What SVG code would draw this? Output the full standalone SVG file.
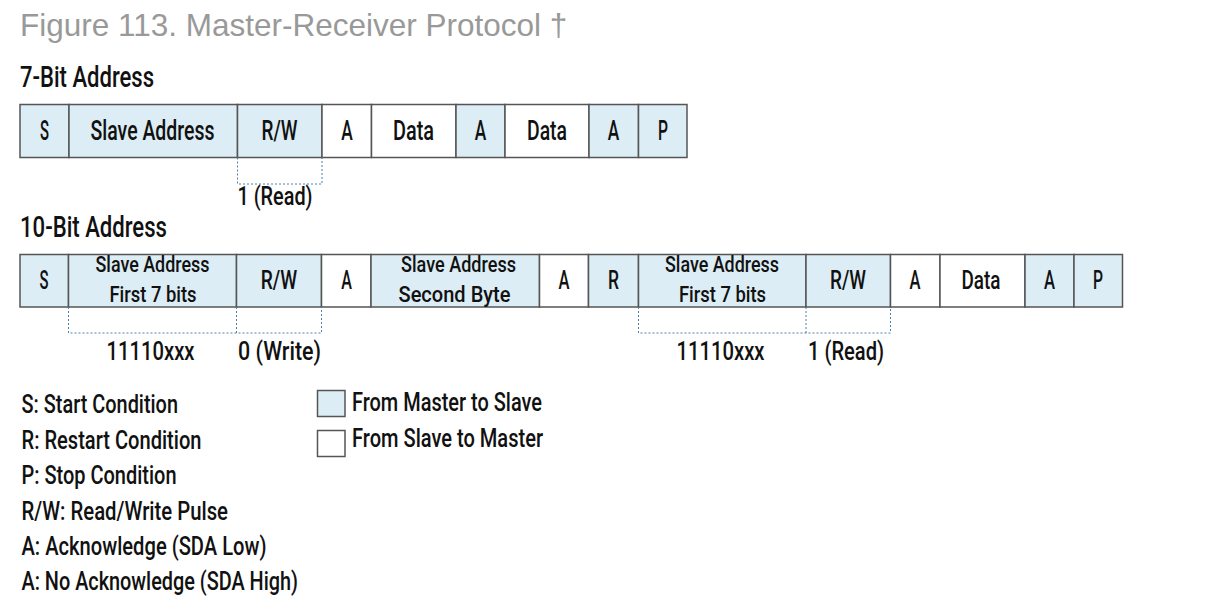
<svg xmlns="http://www.w3.org/2000/svg" width="1206" height="612" viewBox="0 0 1206 612">
<style>
.bg{fill:#ffffff}
.m{fill:#dcedf5;stroke:#555555;stroke-width:1.5}
.s{fill:#ffffff;stroke:#555555;stroke-width:1.5}
.t{font-family:Roboto,"Liberation Sans",Arial,sans-serif;font-weight:500;fill:#111111}
.c1{font-size:27.5px;text-anchor:middle}
.c2{font-size:25.5px;text-anchor:middle}
.c3{font-size:22.5px;text-anchor:middle}
.lb{font-size:25px}
.hd{font-size:29px}
.title{font-family:"Liberation Sans",Arial,sans-serif;font-size:31.5px;fill:#999999}
.dot{fill:none;stroke:#4f7fae;stroke-width:1;stroke-dasharray:2 2}
</style>
<rect class="bg" x="0" y="0" width="1206" height="612"/>
<text class="title" x="20" y="36">Figure 113. Master-Receiver Protocol †</text>
<text class="t hd" x="20" y="87" textLength="134" lengthAdjust="spacingAndGlyphs">7-Bit Address</text>
<text class="t hd" x="20" y="237" textLength="147" lengthAdjust="spacingAndGlyphs">10-Bit Address</text>

<g id="row7">
  <g id="r1-s"><rect class="m" x="20" y="104.5" width="49" height="53"/><text class="t c1" x="44.5" y="140" textLength="9" lengthAdjust="spacingAndGlyphs">S</text></g>
  <g id="r1-addr"><rect class="m" x="69" y="104.5" width="168.5" height="53"/><text class="t c1" x="152.5" y="140" textLength="124" lengthAdjust="spacingAndGlyphs">Slave Address</text></g>
  <g id="r1-rw"><rect class="m" x="237.5" y="104.5" width="84.5" height="53"/><text class="t c1" x="279.5" y="140" textLength="36" lengthAdjust="spacingAndGlyphs">R/W</text></g>
  <g id="r1-a1"><rect class="s" x="322" y="104.5" width="49.5" height="53"/><text class="t c1" x="347" y="140" textLength="11.5" lengthAdjust="spacingAndGlyphs">A</text></g>
  <g id="r1-d1"><rect class="s" x="371.5" y="104.5" width="84.5" height="53"/><text class="t c1" x="413.5" y="140" textLength="41" lengthAdjust="spacingAndGlyphs">Data</text></g>
  <g id="r1-a2"><rect class="m" x="456" y="104.5" width="49" height="53"/><text class="t c1" x="480.5" y="140" textLength="11.5" lengthAdjust="spacingAndGlyphs">A</text></g>
  <g id="r1-d2"><rect class="s" x="505" y="104.5" width="84" height="53"/><text class="t c1" x="547" y="140" textLength="40" lengthAdjust="spacingAndGlyphs">Data</text></g>
  <g id="r1-a3"><rect class="m" x="589" y="104.5" width="49.5" height="53"/><text class="t c1" x="613.5" y="140" textLength="11.5" lengthAdjust="spacingAndGlyphs">A</text></g>
  <g id="r1-p"><rect class="m" x="638.5" y="104.5" width="48.5" height="53"/><text class="t c1" x="663" y="140" textLength="10" lengthAdjust="spacingAndGlyphs">P</text></g>
</g>

<g id="row10">
  <g id="r2-s"><rect class="m" x="20" y="254.5" width="48.5" height="52.5"/><text class="t c2" x="44" y="289" textLength="9" lengthAdjust="spacingAndGlyphs">S</text></g>
  <g id="r2-addr1"><rect class="m" x="68.5" y="254.5" width="168" height="52.5"/><text class="t c3" x="152.5" y="272" textLength="114" lengthAdjust="spacingAndGlyphs">Slave Address</text><text class="t c3" x="153" y="301.5" textLength="87" lengthAdjust="spacingAndGlyphs">First 7 bits</text></g>
  <g id="r2-rw1"><rect class="m" x="236.5" y="254.5" width="85" height="52.5"/><text class="t c2" x="279" y="289" textLength="36.5" lengthAdjust="spacingAndGlyphs">R/W</text></g>
  <g id="r2-a1"><rect class="s" x="321.5" y="254.5" width="49.5" height="52.5"/><text class="t c2" x="346.5" y="289" textLength="10.7" lengthAdjust="spacingAndGlyphs">A</text></g>
  <g id="r2-addr2"><rect class="m" x="371" y="254.5" width="168.5" height="52.5"/><text class="t c3" x="458.5" y="272" textLength="115" lengthAdjust="spacingAndGlyphs">Slave Address</text><text class="t c3" x="454.5" y="301.5" textLength="112" lengthAdjust="spacingAndGlyphs">Second Byte</text></g>
  <g id="r2-a2"><rect class="s" x="539.5" y="254.5" width="49" height="52.5"/><text class="t c2" x="564" y="289" textLength="11" lengthAdjust="spacingAndGlyphs">A</text></g>
  <g id="r2-r"><rect class="m" x="588.5" y="254.5" width="50" height="52.5"/><text class="t c2" x="613.5" y="289" textLength="11" lengthAdjust="spacingAndGlyphs">R</text></g>
  <g id="r2-addr3"><rect class="m" x="638.5" y="254.5" width="167.5" height="52.5"/><text class="t c3" x="722" y="272" textLength="114" lengthAdjust="spacingAndGlyphs">Slave Address</text><text class="t c3" x="722.5" y="301.5" textLength="87" lengthAdjust="spacingAndGlyphs">First 7 bits</text></g>
  <g id="r2-rw2"><rect class="m" x="806" y="254.5" width="84.5" height="52.5"/><text class="t c2" x="848" y="289" textLength="36" lengthAdjust="spacingAndGlyphs">R/W</text></g>
  <g id="r2-a3"><rect class="s" x="890.5" y="254.5" width="49.5" height="52.5"/><text class="t c2" x="915" y="289" textLength="11" lengthAdjust="spacingAndGlyphs">A</text></g>
  <g id="r2-d"><rect class="s" x="940" y="254.5" width="85" height="52.5"/><text class="t c2" x="981" y="289" textLength="39" lengthAdjust="spacingAndGlyphs">Data</text></g>
  <g id="r2-a4"><rect class="m" x="1025" y="254.5" width="49" height="52.5"/><text class="t c2" x="1049.5" y="289" textLength="11" lengthAdjust="spacingAndGlyphs">A</text></g>
  <g id="r2-p"><rect class="m" x="1074" y="254.5" width="48.5" height="52.5"/><text class="t c2" x="1098" y="289" textLength="10" lengthAdjust="spacingAndGlyphs">P</text></g>
</g>

<g id="connectors">
  <path class="dot" d="M237.5 157.5 V184 H322 V157.5"/>
  <path class="dot" d="M68.5 307 V333 H321.5 V307 M236.5 307 V333"/>
  <path class="dot" d="M638.5 307 V333 H890.5 V307 M806 307 V333"/>
</g>

<g id="bit-labels">
  <text class="t lb" x="237.5" y="205" textLength="75" lengthAdjust="spacingAndGlyphs">1 (Read)</text>
  <text class="t lb" x="106.5" y="360" textLength="88" lengthAdjust="spacingAndGlyphs">11110xxx</text>
  <text class="t lb" x="238" y="360" textLength="83" lengthAdjust="spacingAndGlyphs">0 (Write)</text>
  <text class="t lb" x="676.5" y="360" textLength="88" lengthAdjust="spacingAndGlyphs">11110xxx</text>
  <text class="t lb" x="808" y="360" textLength="76" lengthAdjust="spacingAndGlyphs">1 (Read)</text>
</g>

<g id="legend">
  <text class="t lb" x="21.5" y="413" textLength="156.5" lengthAdjust="spacingAndGlyphs">S: Start Condition</text>
  <text class="t lb" x="21.5" y="448.5" textLength="180" lengthAdjust="spacingAndGlyphs">R: Restart Condition</text>
  <text class="t lb" x="21.5" y="484" textLength="155" lengthAdjust="spacingAndGlyphs">P: Stop Condition</text>
  <text class="t lb" x="21.5" y="519.5" textLength="206.5" lengthAdjust="spacingAndGlyphs">R/W: Read/Write Pulse</text>
  <text class="t lb" x="21.5" y="555" textLength="245" lengthAdjust="spacingAndGlyphs">A: Acknowledge (SDA Low)</text>
  <text class="t lb" x="21.5" y="590" textLength="276.5" lengthAdjust="spacingAndGlyphs">A: No Acknowledge (SDA High)</text>
  <g id="key-master"><rect class="m" x="317.5" y="390.5" width="27.5" height="26"/><text class="t lb" x="352" y="411" textLength="190" lengthAdjust="spacingAndGlyphs">From Master to Slave</text></g>
  <g id="key-slave"><rect class="s" x="317.5" y="430.5" width="27.5" height="26"/><text class="t lb" x="352" y="447" textLength="191" lengthAdjust="spacingAndGlyphs">From Slave to Master</text></g>
</g>
</svg>
